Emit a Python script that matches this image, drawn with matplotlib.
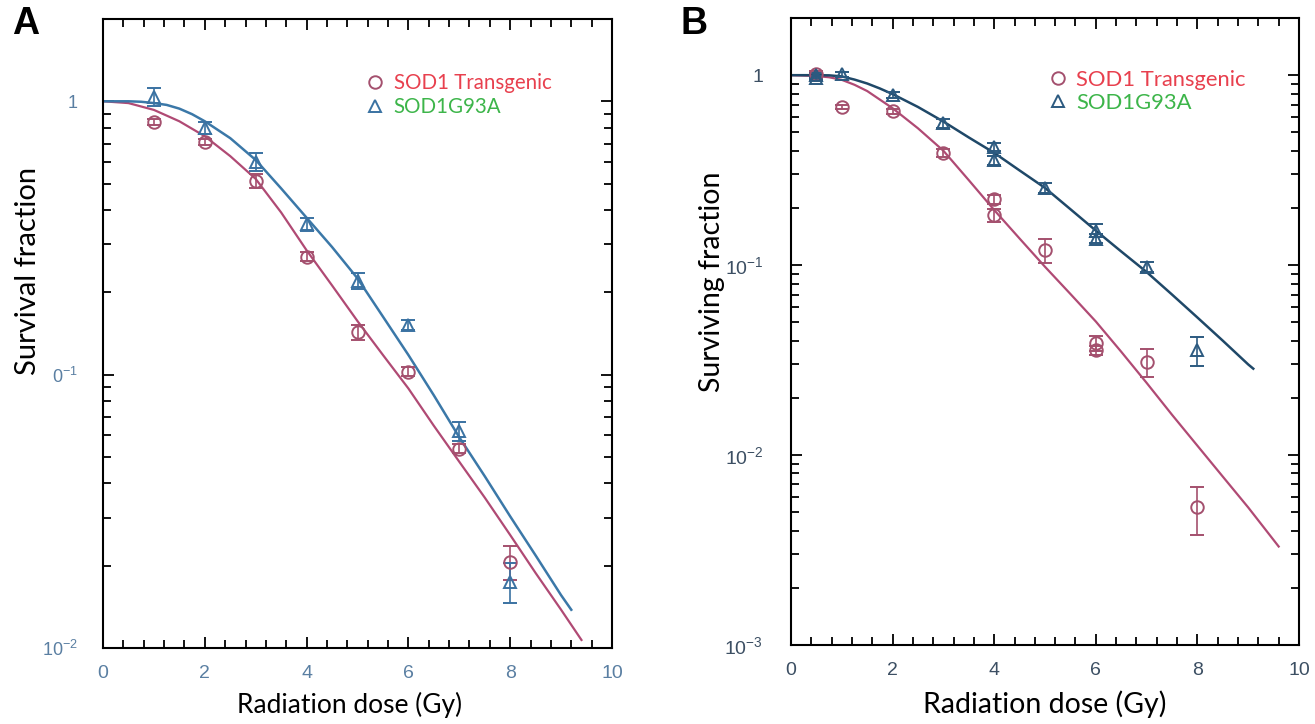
import matplotlib
matplotlib.use('Agg')
import matplotlib.pyplot as plt
from matplotlib.ticker import FixedLocator, MultipleLocator, LogLocator, NullFormatter, FixedFormatter
from matplotlib.lines import Line2D

plt.rcParams['font.family'] = ['Liberation Sans', 'DejaVu Sans']
plt.rcParams['mathtext.fontset'] = 'custom'
plt.rcParams['mathtext.rm'] = 'Liberation Sans'
plt.rcParams['mathtext.it'] = 'Liberation Sans:italic'
plt.rcParams['mathtext.bf'] = 'Liberation Sans:bold'

# ---------------- Panel A data ----------------
a_dose_tg = [1, 2, 3, 4, 5, 6, 7, 8]
a_sf_tg = [0.84, 0.71, 0.51, 0.27, 0.143, 0.1025, 0.0536, 0.0207]
a_err_tg = [0.02, 0.02, 0.03, 0.01, 0.009, 0.004, 0.002, 0.003]

a_dose_mut = [1, 2, 3, 4, 5, 6, 7, 8]
a_sf_mut = [1.04, 0.80, 0.60, 0.355, 0.22, 0.152, 0.062, 0.0175]
a_err_mut = [0.08, 0.04, 0.045, 0.02, 0.015, 0.006, 0.005, 0.0029]

a_fit_dose_tg = [0, 0.5, 1, 1.5, 2, 2.5, 3, 3.5, 4, 4.5, 5, 5.5, 6, 6.5, 7, 7.5, 8, 8.5, 9, 9.4]
a_fit_tg = [1.0, 0.985, 0.93, 0.845, 0.745, 0.63, 0.52, 0.392, 0.285, 0.212, 0.157, 0.118,
            0.089, 0.065, 0.048, 0.0355, 0.0259, 0.0188, 0.0138, 0.0107]
a_fit_dose_mut = [0, 0.5, 0.75, 1, 1.25, 1.5, 1.75, 2, 2.5, 3, 3.5, 4, 4.5, 5, 5.5, 6,
                  6.5, 7, 7.5, 8, 8.5, 9, 9.2]
a_fit_mut = [1.0, 1.0, 0.996, 0.985, 0.97, 0.94, 0.897, 0.845, 0.733, 0.61, 0.48, 0.375,
             0.293, 0.225, 0.163, 0.118, 0.084, 0.059, 0.0425, 0.0303, 0.0218, 0.0156, 0.0138]

# ---------------- Panel B data ----------------
b_dose_tg = [0.5, 1, 2, 3, 4, 4, 5, 6, 6, 7, 8]
b_sf_tg = [1.02, 0.68, 0.645, 0.39, 0.222, 0.183, 0.12, 0.039, 0.0357, 0.031, 0.0053]
b_err_tg = [0.03, 0.02, 0.02, 0.02, 0.012, 0.015, 0.017, 0.0035, 0.002, 0.0052, 0.0015]

b_dose_mut = [0.5, 0.5, 1, 2, 3, 4, 4, 5, 6, 6, 7, 8]
b_sf_mut = [1.0, 0.965, 1.01, 0.79, 0.56, 0.42, 0.357, 0.254, 0.152, 0.138, 0.098, 0.0357]
b_err_mut = [0.03, 0.02, 0.03, 0.03, 0.03, 0.02, 0.02, 0.015, 0.012, 0.008, 0.006, 0.0062]

b_fit_dose_tg = [0, 0.5, 0.75, 1, 1.25, 1.5, 2, 2.5, 3, 3.5, 4, 4.5, 5, 5.5, 6, 6.5,
                 7, 7.5, 8, 8.5, 9, 9.6]
b_fit_tg = [1.0, 0.99, 0.975, 0.945, 0.89, 0.825, 0.67, 0.525, 0.40, 0.28, 0.195, 0.138,
            0.098, 0.0705, 0.0505, 0.035, 0.024, 0.0163, 0.0112, 0.0077, 0.0053, 0.0033]
b_fit_dose_mut = [0, 0.5, 0.75, 1, 1.25, 1.5, 1.75, 2, 2.5, 3, 3.5, 4, 4.5, 5, 5.5, 6,
                  6.5, 7, 7.5, 8, 8.5, 9, 9.1]
b_fit_mut = [1.0, 1.0, 0.998, 0.985, 0.948, 0.904, 0.851, 0.795, 0.68, 0.57, 0.47, 0.39,
             0.315, 0.255, 0.197, 0.152, 0.118, 0.092, 0.070, 0.053, 0.040, 0.030, 0.0285]

# text
legend_labels = ['SOD1 Transgenic', 'SOD1G93A']
legend_colors = ['#e8404e', '#3db54a']
xlabel = 'Radiation dose (Gy)'
a_ylabel = 'Survival fraction'
b_ylabel = 'Surviving fraction'
a_yticks = [0.01, 0.1, 1]
a_yticklabels = ['10$^{-2}$', '0$^{-1}$', '1']
b_yticks = [0.001, 0.01, 0.1, 1]
b_yticklabels = ['10$^{-3}$', '10$^{-2}$', '10$^{-1}$', '1']

# colours
pink = '#b04a74'
pink_marker = '#a4506e'
blueA = '#3b78a8'
blueB = '#1f4868'
triA = '#3a72a2'
triB = '#2c5a80'
label_font = 'Lato'

fig = plt.figure(figsize=(13.15, 7.24), dpi=100)
axA = fig.add_axes([103 / 1315, 1 - 648 / 724, 509 / 1315, 629 / 724])
axB = fig.add_axes([791 / 1315, 1 - 645 / 724, 508 / 1315, 627 / 724])


def style(ax, ymin, yticks, yticklabels, tickcolor, ysize, ypad):
    ax.set_yscale('log')
    ax.set_xlim(0, 10)
    ax.set_ylim(ymin, 2)
    ax.xaxis.set_major_locator(MultipleLocator(2))
    ax.xaxis.set_minor_locator(MultipleLocator(0.4))
    ax.yaxis.set_major_locator(FixedLocator(yticks))
    ax.yaxis.set_major_formatter(FixedFormatter(yticklabels))
    ax.yaxis.set_minor_locator(LogLocator(base=10, subs=range(2, 10)))
    ax.yaxis.set_minor_formatter(NullFormatter())
    ax.tick_params(which='both', direction='in', top=True, right=True, width=1.3)
    ax.tick_params(which='major', length=8)
    ax.tick_params(which='minor', length=6)
    ax.tick_params(axis='x', which='major', labelsize=14, labelcolor=tickcolor, pad=12)
    ax.tick_params(axis='y', which='major', labelsize=ysize, labelcolor=tickcolor, pad=ypad)
    for s in ax.spines.values():
        s.set_linewidth(1.5)


def draw(ax, fit_x_tg, fit_tg, fit_x_mut, fit_mut, dose_tg, sf_tg, err_tg,
         dose_mut, sf_mut, err_mut, bluec, tric):
    ax.plot(fit_x_tg, fit_tg, color=pink, lw=1.6, zorder=2)
    ax.plot(fit_x_mut, fit_mut, color=bluec, lw=1.8, zorder=2)
    ax.errorbar(dose_tg, sf_tg, yerr=err_tg, fmt='o', mfc='none', mec=pink_marker,
                ecolor=pink_marker, ms=9, mew=1.4, capsize=5, elinewidth=1.2,
                capthick=1.2, zorder=3)
    ax.errorbar(dose_mut, sf_mut, yerr=err_mut, fmt='^', mfc='none', mec=tric,
                ecolor=tric, ms=9, mew=1.4, capsize=5, elinewidth=1.2,
                capthick=1.2, zorder=3)
    handles = [Line2D([], [], ls='none', marker='o', mfc='none', mec=pink_marker, ms=9, mew=1.4),
               Line2D([], [], ls='none', marker='^', mfc='none', mec=tric, ms=9, mew=1.4)]
    return handles


style(axA, 0.01, a_yticks, a_yticklabels, '#5a7fa2', 13, 18)
style(axB, 0.001, b_yticks, b_yticklabels, '#3c4f63', 14, 20)

hA = draw(axA, a_fit_dose_tg, a_fit_tg, a_fit_dose_mut, a_fit_mut, a_dose_tg, a_sf_tg,
          a_err_tg, a_dose_mut, a_sf_mut, a_err_mut, blueA, triA)
hB = draw(axB, b_fit_dose_tg, b_fit_tg, b_fit_dose_mut, b_fit_mut, b_dose_tg, b_sf_tg,
          b_err_tg, b_dose_mut, b_sf_mut, b_err_mut, blueB, triB)

for ax, h, anchor, fs, sp, tp in [(axA, hA, (0.494, 0.930), 14.8, 0.17, 0.40),
                                  (axB, hB, (0.482, 0.935), 15.8, 0.15, 0.34)]:
    ax.legend(h, legend_labels, loc='upper left', bbox_to_anchor=anchor, frameon=False,
              borderpad=0, handlelength=1.0, handletextpad=tp, labelspacing=sp,
              labelcolor=legend_colors, prop={'family': label_font, 'size': fs})

for ax, yl, ly, xs, ys in [(axA, a_ylabel, (-0.147, 0.599), 19, 21),
                           (axB, b_ylabel, (-0.1555, 0.580), 20.5, 20.5)]:
    ax.set_xlabel(xlabel, fontsize=xs, family=label_font)
    ax.set_ylabel(yl, fontsize=ys, family=label_font)
    ax.yaxis.set_label_coords(*ly)

axA.xaxis.set_label_coords(0.485, -0.09)
axB.xaxis.set_label_coords(0.50, -0.094)
for ax in (axA, axB):
    ax.xaxis.label.set_verticalalignment('center')
    ax.yaxis.label.set_verticalalignment('center')

fig.text(26 / 1315, 1 - 24 / 724, 'A', fontsize=27, fontweight='bold', ha='center', va='center')
fig.text(694 / 1315, 1 - 24 / 724, 'B', fontsize=27, fontweight='bold', ha='center', va='center')

fig.savefig('out.png', dpi=100)
